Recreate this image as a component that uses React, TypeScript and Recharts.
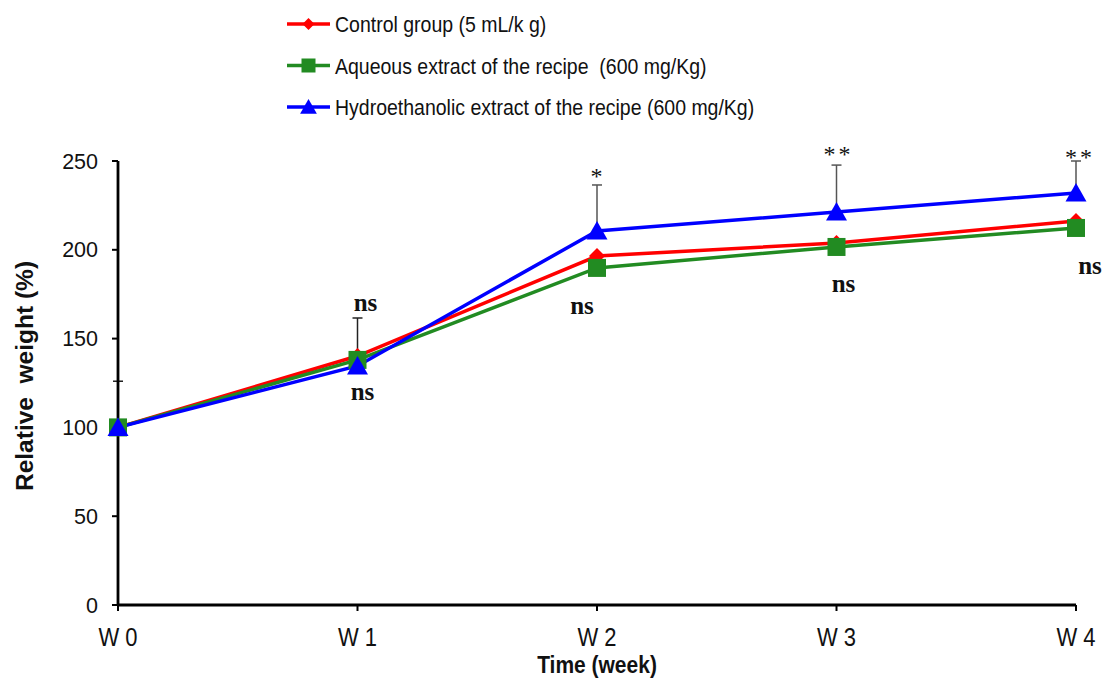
import React from 'react';
import { LineChart, Line, XAxis, YAxis, ErrorBar, ReferenceDot, Legend, Label } from 'recharts';

const weeks = ['W 0', 'W 1', 'W 2', 'W 3', 'W 4'];
const control = [100, 140.2, 196.5, 203.8, 216.2];
const aqueous = [100, 138, 189.8, 201.6, 212.3];
const hydro = [100, 134.6, 210.6, 221.3, 232];
// upper-only standard error bars
const controlErr = [26, 21.4, null, null, null];
const hydroErr = [null, null, 25.9, 26.4, 18];

const yTicks = [0, 50, 100, 150, 200, 250];

const seriesNames = [
  'Control group (5 mL/k g)',
  'Aqueous extract of the recipe  (600 mg/Kg)',
  'Hydroethanolic extract of the recipe (600 mg/Kg)',
];

// significance annotations
const annWeek = ['W 1', 'W 1', 'W 2', 'W 2', 'W 3', 'W 3', 'W 4', 'W 4'];
const annValue = [170.6, 120, 243.8, 168.4, 256, 181.3, 254.5, 191.4];
const annText = ['ns', 'ns', '*', 'ns', '**', 'ns', '**', 'ns'];
const annShift = [8, 5, 1, -15, 2, 7, 4, 14];

const RED = '#ff0000';
const GREEN = '#228b22';
const BLUE = '#0000ff';
const colors = [RED, GREEN, BLUE];

const data = weeks.map((w, i) => ({
  week: w,
  control: control[i],
  aqueous: aqueous[i],
  hydro: hydro[i],
  controlErr: controlErr[i] == null ? undefined : [0, controlErr[i]],
  hydroErr: hydroErr[i] == null ? undefined : [0, hydroErr[i]],
}));

const diamond = (cx: number, cy: number, r: number, fill: string, key?: any) => (
  <polygon key={key} points={`${cx},${cy - r} ${cx + r},${cy} ${cx},${cy + r} ${cx - r},${cy}`} fill={fill} />
);
const square = (cx: number, cy: number, r: number, fill: string, key?: any) => (
  <rect key={key} x={cx - r} y={cy - r} width={2 * r} height={2 * r} fill={fill} />
);
const triangle = (cx: number, cy: number, r: number, fill: string, key?: any) => (
  <polygon key={key} points={`${cx},${cy - r} ${cx + r * 1.05},${cy + r * 0.85} ${cx - r * 1.05},${cy + r * 0.85}`} fill={fill} />
);

const markerFns = [diamond, square, triangle];

const DiamondDot = (p: any) => (p.cx == null ? null : diamond(p.cx, p.cy, 8, RED, `d${p.index}`));
const SquareDot = (p: any) => (p.cx == null ? null : square(p.cx, p.cy, 9, GREEN, `s${p.index}`));
const TriangleDot = (p: any) => (p.cx == null ? null : triangle(p.cx, p.cy, 10, BLUE, `t${p.index}`));

const renderLegend = () => (
  <svg width={620} height={130} style={{ overflow: 'visible' }}>
    {seriesNames.map((name, i) => {
      const y = 24 + i * 41.5;
      const c = colors[i];
      return (
        <g key={i}>
          <line x1={0} x2={43} y1={y} y2={y} stroke={c} strokeWidth={3.5} />
          {markerFns[i](21.5, y, i === 0 ? 6 : i === 1 ? 7 : 8, c)}
          <text
            x={0}
            y={0}
            transform={`translate(48, ${y}) scale(1, 1.15)`}
            dominantBaseline="central"
            fontFamily="'Liberation Sans', Arial, sans-serif"
            fontSize={19.5}
            fill="#111"
            style={{ whiteSpace: 'pre' }}
          >
            {name}
          </text>
        </g>
      );
    })}
  </svg>
);

const AnnLabel = (text: string, shift: number) => (props: any) => {
  const vb = props.viewBox || {};
  const cx = (vb.x ?? 0) + (vb.width ?? 0) / 2 + shift;
  const cy = (vb.y ?? 0) + (vb.height ?? 0) / 2;
  const isStar = text.startsWith('*');
  return (
    <text
      x={cx}
      y={isStar ? cy + 4 : cy}
      textAnchor="middle"
      dominantBaseline="central"
      fontFamily="'Liberation Serif', 'Times New Roman', serif"
      fontWeight={isStar ? 'normal' : 'bold'}
      fontSize={isStar ? 24 : 25}
      letterSpacing={isStar ? 3 : 0}
      fill="#111"
    >
      {text}
    </text>
  );
};

const YLabel = (props: any) => {
  const vb = props.viewBox || {};
  const x = 24;
  const y = (vb.y ?? 161) + (vb.height ?? 444) / 2 - 7;
  return (
    <text
      x={x}
      y={y}
      transform={`rotate(-90, ${x}, ${y})`}
      textAnchor="middle"
      dominantBaseline="central"
      fontFamily="'Liberation Sans', Arial, sans-serif"
      fontWeight="bold"
      fontSize={24.5}
      fill="#111"
      style={{ whiteSpace: 'pre' }}
    >
      {'Relative  weight (%)'}
    </text>
  );
};

const XTick = (props: any) => {
  const { x, y, payload } = props;
  return (
    <text
      x={0}
      y={0}
      transform={`translate(${x}, ${y + 4}) scale(1, 1.2)`}
      textAnchor="middle"
      dominantBaseline="hanging"
      fontFamily="'Liberation Sans', Arial, sans-serif"
      fontSize={22}
      fill="#111"
    >
      {payload.value}
    </text>
  );
};

const XLabel = (props: any) => {
  const vb = props.viewBox || {};
  const cx = (vb.x ?? 118) + (vb.width ?? 958) / 2;
  return (
    <text
      x={0}
      y={0}
      transform={`translate(${cx}, 665) scale(1, 1.15)`}
      textAnchor="middle"
      dominantBaseline="central"
      fontFamily="'Liberation Sans', Arial, sans-serif"
      fontWeight="bold"
      fontSize={21}
      fill="#111"
    >
      Time (week)
    </text>
  );
};

export default function App() {
  return (
    <div style={{ position: 'absolute', left: 0, top: 0, width: 1103, height: 680, background: '#fff' }}>
      <LineChart width={1103} height={680} data={data} margin={{ top: 161, right: 27, bottom: 0, left: 0 }}>
        <XAxis
          dataKey="week"
          height={75}
          axisLine={{ stroke: '#000', strokeWidth: 2.8 }}
          tickLine={{ stroke: '#000', strokeWidth: 2 }}
          tickSize={6}
          tickMargin={12}
          tick={XTick}
          interval={0}
        >
          <Label content={XLabel} />
        </XAxis>
        <YAxis
          width={118}
          domain={[0, 250]}
          ticks={yTicks}
          allowDataOverflow
          axisLine={{ stroke: '#000', strokeWidth: 2.8 }}
          tickLine={{ stroke: '#000', strokeWidth: 2 }}
          tickSize={6}
          tickMargin={14}
          tick={{ fill: '#111', fontSize: 21.5, fontFamily: "'Liberation Sans', Arial, sans-serif" }}
          label={{ content: YLabel }}
        />
        <Legend
          layout="vertical"
          align="center"
          verticalAlign="middle"
          content={renderLegend}
          wrapperStyle={{ position: 'absolute', left: 287, top: 0, width: 620, height: 130 }}
        />
        <Line
          name={seriesNames[0]}
          dataKey="control"
          stroke={RED}
          strokeWidth={3.5}
          dot={DiamondDot}
          activeDot={false}
          isAnimationActive={false}
        >
          <ErrorBar dataKey="controlErr" width={5} stroke="#222" strokeWidth={1.5} direction="y" />
        </Line>
        <Line
          name={seriesNames[1]}
          dataKey="aqueous"
          stroke={GREEN}
          strokeWidth={3.5}
          dot={SquareDot}
          activeDot={false}
          isAnimationActive={false}
        />
        <Line
          name={seriesNames[2]}
          dataKey="hydro"
          stroke={BLUE}
          strokeWidth={3.5}
          dot={TriangleDot}
          activeDot={false}
          isAnimationActive={false}
        >
          <ErrorBar dataKey="hydroErr" width={5} stroke="#555" strokeWidth={1.5} direction="y" />
        </Line>
        {annWeek.map((w, i) => (
          <ReferenceDot
            key={`ann${i}`}
            x={w}
            y={annValue[i]}
            r={0}
            fill="none"
            stroke="none"
            ifOverflow="visible"
            label={{ content: AnnLabel(annText[i], annShift[i]) }}
          />
        ))}
      </LineChart>
    </div>
  );
}
